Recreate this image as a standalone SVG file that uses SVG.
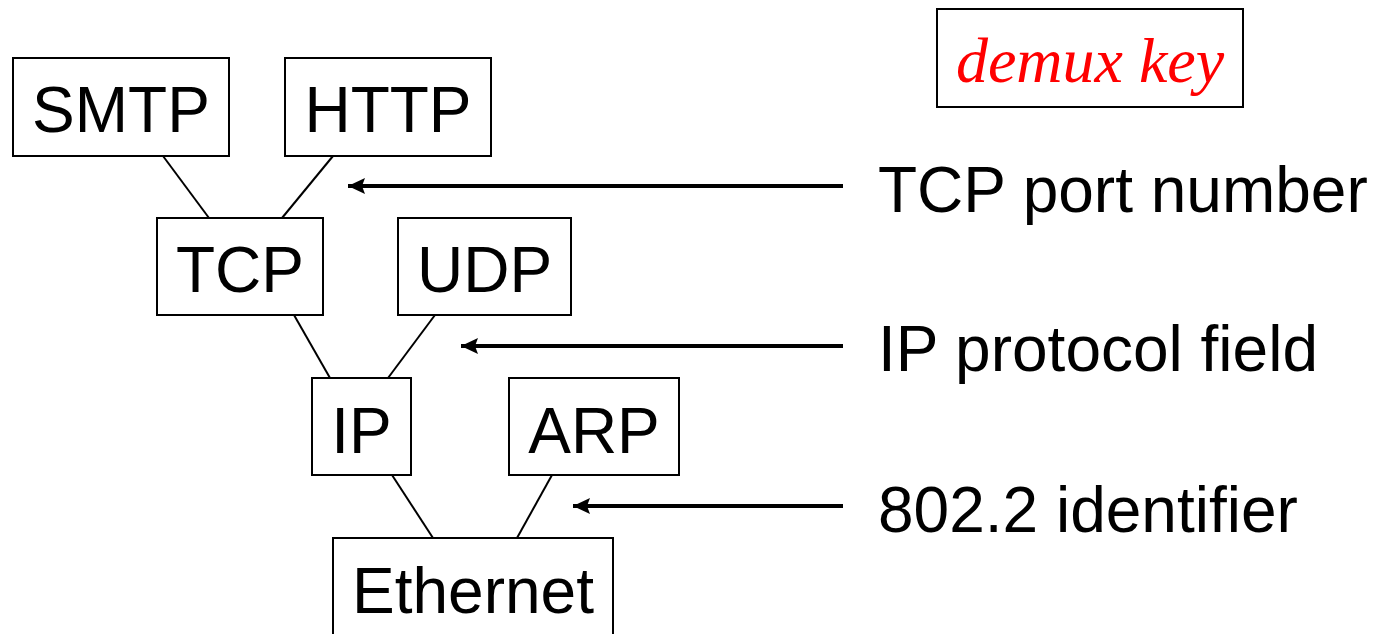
<svg xmlns="http://www.w3.org/2000/svg" width="1381" height="634" viewBox="0 0 1381 634">
  <style>
    .box { fill: #fff; stroke: #000; stroke-width: 2; }
    .name { font-family: "Liberation Sans", Arial, sans-serif; font-size: 64px; fill: #000; text-anchor: middle; }
    .label { font-family: "Liberation Sans", Arial, sans-serif; font-size: 64px; fill: #000; }
    .key { font-family: "Liberation Serif", "Times New Roman", serif; font-style: italic; font-size: 64px; fill: #f00; text-anchor: middle; }
    .link { stroke: #000; stroke-width: 2; fill: none; }
    .pointer { stroke: #000; stroke-width: 4; fill: none; marker-end: url(#head); }
  </style>
  <defs>
    <marker id="head" markerWidth="18" markerHeight="16" refX="17" refY="8" orient="auto" markerUnits="userSpaceOnUse">
      <path d="M0,0 L17,8 L0,16 L3,8 Z" fill="#000"/>
    </marker>
  </defs>
  <rect width="1381" height="634" fill="#fff"/>

  <!-- protocol graph edges and demux-key pointers -->
  <g id="connectors">
    <line class="link" x1="163" y1="156" x2="209" y2="218"/>
    <line class="link" x1="333" y1="156" x2="282" y2="218"/>
    <line class="link" x1="294" y1="315" x2="330" y2="378"/>
    <line class="link" x1="435" y1="315" x2="388" y2="378"/>
    <line class="link" x1="392" y1="475" x2="433" y2="538"/>
    <line class="link" x1="552" y1="475" x2="517" y2="538"/>
    <line class="pointer" x1="843" y1="186" x2="348" y2="186"/>
    <line class="pointer" x1="843" y1="346" x2="461" y2="346"/>
    <line class="pointer" x1="843" y1="506" x2="573" y2="506"/>
  </g>

  <g id="smtp">
    <rect class="box" x="13" y="58" width="216" height="98"/>
    <text class="name" x="121" y="132">SMTP</text>
  </g>
  <g id="http">
    <rect class="box" x="285" y="58" width="206" height="98"/>
    <text class="name" x="388" y="132">HTTP</text>
  </g>
  <g id="tcp">
    <rect class="box" x="157" y="218" width="166" height="97"/>
    <text class="name" x="240" y="292">TCP</text>
  </g>
  <g id="udp">
    <rect class="box" x="398" y="218" width="173" height="97"/>
    <text class="name" x="484.5" y="292">UDP</text>
  </g>
  <g id="ip">
    <rect class="box" x="312" y="378" width="99" height="97"/>
    <text class="name" x="361.5" y="453">IP</text>
  </g>
  <g id="arp">
    <rect class="box" x="509" y="378" width="170" height="97"/>
    <text class="name" x="594" y="453">ARP</text>
  </g>
  <g id="ethernet">
    <rect class="box" x="333" y="538" width="280" height="110"/>
    <text class="name" x="473" y="613">Ethernet</text>
  </g>

  <g id="legend">
    <rect class="box" x="937" y="9" width="306" height="98"/>
    <text class="key" x="1090" y="82">demux key</text>
  </g>

  <g id="labels">
    <text class="label" x="878" y="212">TCP port number</text>
    <text class="label" x="878" y="371">IP protocol field</text>
    <text class="label" x="878" y="532">802.2 identifier</text>
  </g>
</svg>
